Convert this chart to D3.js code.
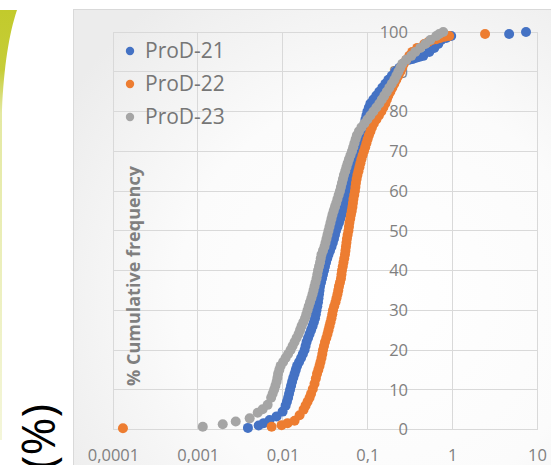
<!DOCTYPE html>
<html>
<head>
<meta charset="utf-8">
<script src="https://cdn.jsdelivr.net/npm/d3@7"></script>
<style>
  body { margin: 0; background: #ffffff; }
  svg { display: block; }
</style>
</head>
<body>
<svg id="chart" width="551" height="465"></svg>
<script>
// Axis ticks
const xTickValues = [0.0001, 0.001, 0.01, 0.1, 1, 10];
const xTickLabels = ["0,0001", "0,001", "0,01", "0,1", "1", "10"];
const yTickValues = [0, 10, 20, 30, 40, 50, 60, 70, 80, 90, 100];

// Series
const seriesNames = ["ProD-21", "ProD-22", "ProD-23"];
const seriesColors = ["#4472C4", "#ED7D31", "#A5A5A5"];

// Each entry: [size, cumulative frequency %]
const prod21 = [
  [0.0039, 0.4], [0.00522, 1], [0.00598, 1.6], [0.00703, 2.4], [0.0085, 3.3], [0.01, 4.5],
  [0.01085, 6], [0.01124, 7], [0.01161, 8], [0.01192, 9], [0.01225, 10], [0.01259, 11],
  [0.01294, 12], [0.01336, 13], [0.01384, 14], [0.0143, 15], [0.01481, 16], [0.01564, 17],
  [0.01651, 18], [0.01733, 19], [0.01815, 20], [0.01865, 21], [0.01916, 22], [0.01995, 23],
  [0.02078, 24], [0.02164, 25], [0.02254, 26], [0.02334, 27], [0.02412, 28], [0.02465, 29],
  [0.02512, 30], [0.02567, 31], [0.02616, 32], [0.02651, 33], [0.02688, 34], [0.02725, 35],
  [0.02762, 36], [0.02838, 37], [0.02916, 38], [0.02995, 39], [0.03078, 40], [0.03162, 41],
  [0.0325, 42], [0.03357, 43], [0.03477, 44], [0.03622, 45], [0.03771, 46], [0.03906, 47],
  [0.04036, 48], [0.04146, 49], [0.04261, 50], [0.04436, 51], [0.0462, 52], [0.04774, 53],
  [0.04944, 54], [0.05079, 55], [0.05221, 56], [0.05363, 57], [0.05511, 58], [0.05662, 59],
  [0.05816, 60], [0.05976, 61], [0.06141, 62], [0.0631, 63], [0.06483, 64], [0.06753, 65],
  [0.07032, 66], [0.07225, 67], [0.07424, 68], [0.07625, 69], [0.07837, 70], [0.08053, 71],
  [0.08273, 72], [0.08501, 73], [0.08731, 74], [0.08899, 75], [0.09095, 76], [0.0927, 77],
  [0.09473, 78], [0.09732, 79], [0.1, 80], [0.1041, 81], [0.1085, 82], [0.1176, 83],
  [0.1276, 84], [0.1384, 85], [0.1501, 86], [0.1628, 87], [0.1766, 88], [0.1942, 89],
  [0.2135, 90], [0.2379, 91], [0.2651, 92], [0.312, 93], [0.343, 93.2], [0.3771, 93.5],
  [0.4146, 93.8], [0.4559, 94], [0.5363, 95], [0.6141, 96], [0.6843, 97], [0.7424, 98],
  [0.8501, 98.5], [0.9732, 99], [4.69, 99.5], [7.42, 100]
];

const prod22 = [
  [0.000131, 0.3], [0.00742, 0.7], [0.00973, 1.1], [0.01145, 1.6], [0.01384, 2.2], [0.01585, 3.6],
  [0.01766, 5], [0.01865, 6], [0.01968, 7], [0.0208, 8], [0.02164, 9], [0.0227, 10.2],
  [0.02379, 11.5], [0.02465, 12.8], [0.02546, 14], [0.02637, 15], [0.02725, 16], [0.028, 17],
  [0.02876, 18], [0.02939, 19], [0.02995, 20], [0.03078, 21], [0.03162, 22], [0.03276, 23],
  [0.03383, 24], [0.03477, 25], [0.03573, 26], [0.03671, 27], [0.03771, 28], [0.03854, 29],
  [0.03928, 30], [0.04057, 31], [0.04203, 32], [0.04318, 33], [0.04436, 34], [0.04534, 35],
  [0.0462, 36], [0.04748, 37], [0.04878, 38], [0.04944, 39], [0.05012, 40], [0.05122, 41],
  [0.05221, 42], [0.05335, 43], [0.05436, 44], [0.05511, 45], [0.05585, 46], [0.05662, 47],
  [0.05739, 48], [0.05848, 49], [0.05976, 50], [0.0606, 51], [0.06141, 52], [0.06276, 53],
  [0.06395, 54], [0.06536, 55], [0.0666, 56], [0.06753, 57], [0.06843, 58], [0.06993, 59],
  [0.07128, 60], [0.07225, 61], [0.07323, 62], [0.07464, 63], [0.07625, 64], [0.07837, 65],
  [0.08053, 66], [0.08273, 67], [0.08501, 68], [0.08779, 69], [0.09095, 70], [0.09421, 71],
  [0.09732, 72], [0.1005, 73], [0.1041, 74], [0.1085, 75], [0.113, 76], [0.1192, 77],
  [0.1276, 78], [0.1366, 79], [0.1461, 80], [0.1543, 81], [0.1628, 82], [0.1696, 83],
  [0.1766, 84], [0.1865, 85], [0.1968, 86], [0.2078, 87], [0.2193, 88], [0.2316, 89],
  [0.2444, 90], [0.258, 91], [0.2688, 92], [0.2876, 93], [0.312, 94], [0.3383, 95],
  [0.3874, 96], [0.4685, 97], [0.5221, 97.5], [0.5816, 98], [0.6483, 98.2], [0.7225, 98.5],
  [0.8163, 98.8], [0.922, 99], [2.44, 99.5]
];

const prod23 = [
  [0.001145, 0.7], [0.001968, 1.3], [0.0028, 2.0], [0.00409, 2.8], [0.00508, 4.2], [0.005817, 5.1],
  [0.006661, 6.2], [0.007323, 8], [0.007627, 9], [0.007943, 10], [0.008228, 11], [0.0085, 12],
  [0.008687, 13], [0.00885, 14], [0.009145, 15], [0.00947, 16], [0.01014, 17], [0.01085, 18],
  [0.01161, 19], [0.01242, 20], [0.01311, 21], [0.01384, 22], [0.01461, 23], [0.01543, 24],
  [0.01607, 25], [0.01673, 26], [0.01752, 27], [0.0184, 28], [0.01905, 29], [0.01968, 30],
  [0.02033, 31], [0.02106, 32], [0.02182, 33], [0.02254, 34], [0.02316, 35], [0.02379, 36],
  [0.02444, 37], [0.02512, 38], [0.02567, 39], [0.02616, 40], [0.02688, 41], [0.02762, 42],
  [0.02815, 43], [0.02876, 44], [0.02995, 45], [0.0312, 46], [0.03206, 47], [0.03294, 48],
  [0.03383, 49], [0.03477, 50], [0.03573, 51], [0.03671, 52], [0.03771, 53], [0.03874, 54],
  [0.04003, 55], [0.04146, 56], [0.04295, 57], [0.04436, 58], [0.04583, 59], [0.04748, 60],
  [0.04878, 61], [0.05012, 62], [0.0515, 63], [0.0529, 64], [0.05481, 65], [0.05662, 66],
  [0.05848, 67], [0.0606, 68], [0.0631, 69], [0.06571, 70], [0.06808, 71], [0.07032, 72],
  [0.07264, 73], [0.0752, 74], [0.07943, 75], [0.08501, 76], [0.0922, 77], [0.1, 78],
  [0.1085, 79], [0.1176, 80], [0.1276, 81], [0.1384, 82], [0.1481, 83], [0.1585, 84],
  [0.1696, 85], [0.1815, 86], [0.1942, 87], [0.2078, 88], [0.2193, 89], [0.2316, 90],
  [0.2444, 91], [0.258, 92], [0.2876, 93], [0.3294, 94], [0.3671, 95], [0.4203, 96],
  [0.4813, 97], [0.5511, 98], [0.6483, 99], [0.7032, 99.5], [0.7837, 100]
];

const seriesData = [prod21, prod22, prod23];

const svg = d3.select("#chart");
const font = "'Open Sans', 'Noto Sans', sans-serif";

const defs = svg.append("defs");
const bg = defs.append("radialGradient").attr("id", "areaFill")
  .attr("cx", "62%").attr("cy", "58%").attr("r", "75%");
bg.append("stop").attr("offset", "0%").attr("stop-color", "#ffffff");
bg.append("stop").attr("offset", "55%").attr("stop-color", "#fbfbfb");
bg.append("stop").attr("offset", "100%").attr("stop-color", "#ececec");

const swoosh = defs.append("linearGradient").attr("id", "swooshFill")
  .attr("x1", 0).attr("y1", 0).attr("x2", 0).attr("y2", 1);
swoosh.append("stop").attr("offset", "0%").attr("stop-color", "#c2ca2c");
swoosh.append("stop").attr("offset", "14%").attr("stop-color", "#c6cd38");
swoosh.append("stop").attr("offset", "24%").attr("stop-color", "#e4e9a2");
swoosh.append("stop").attr("offset", "100%").attr("stop-color", "#f4f6da");

// Decorative swoosh at the left edge
svg.append("path")
  .attr("d", "M0,10 L17,10 C9,34 4,66 2,110 L2,440 L0,440 Z")
  .attr("fill", "url(#swooshFill)");

// Large rotated unit label
svg.append("text")
  .attr("transform", "translate(55,404) rotate(-90)")
  .attr("text-anchor", "end")
  .attr("font-family", font)
  .attr("font-size", 46)
  .attr("fill", "#000")
  .text("(%)");

// Chart area
svg.append("rect")
  .attr("x", 73.5).attr("y", 9.5).attr("width", 500).attr("height", 500)
  .attr("fill", "url(#areaFill)")
  .attr("stroke", "#d9d9d9");

const x = d3.scaleLog().domain([0.0001, 10]).range([113, 537]);
const y = d3.scaleLinear().domain([0, 100]).range([429.5, 32]);

// Gridlines
const grid = svg.append("g").attr("stroke", "#d9d9d9").attr("stroke-width", 1)
  .attr("shape-rendering", "crispEdges");
grid.selectAll("line.v").data(xTickValues).join("line").attr("class", "v")
  .attr("x1", d => x(d)).attr("x2", d => x(d))
  .attr("y1", y(0)).attr("y2", y(100));
grid.selectAll("line.h").data(yTickValues).join("line").attr("class", "h")
  .attr("x1", x(0.0001)).attr("x2", x(10))
  .attr("y1", d => y(d)).attr("y2", d => y(d));

// X axis labels
const xAxis = svg.append("g")
  .attr("transform", `translate(0,${y(0)})`)
  .call(d3.axisBottom(x).tickValues(xTickValues)
    .tickFormat((d, i) => xTickLabels[i]).tickSize(0).tickPadding(20));
xAxis.select(".domain").remove();
xAxis.selectAll("text").attr("font-family", font).attr("font-size", 16.5).attr("fill", "#808080");

// Y axis labels, placed beside the 0.1 crossing
const yAxis = svg.append("g")
  .attr("transform", "translate(408,0)")
  .call(d3.axisLeft(y).tickValues(yTickValues).tickSize(0).tickPadding(0));
yAxis.select(".domain").remove();
yAxis.selectAll("text").attr("font-family", font).attr("font-size", 16.5).attr("fill", "#808080");

// Y axis title
svg.append("text")
  .attr("transform", "translate(140,276) rotate(-90)")
  .attr("text-anchor", "middle")
  .attr("font-family", font)
  .attr("font-weight", "bold")
  .attr("font-size", 18)
  .attr("fill", "#7f7f7f")
  .text("% Cumulative frequency");

// Series markers
seriesData.forEach((pts, i) => {
  svg.append("g").attr("fill", seriesColors[i])
    .selectAll("circle").data(pts).join("circle")
    .attr("cx", d => x(d[0]))
    .attr("cy", d => y(d[1]))
    .attr("r", 5);
});

// Legend
const legend = svg.append("g");
const legendRows = legend.selectAll("g").data(seriesNames).join("g")
  .attr("transform", (d, i) => `translate(130,${51 + i * 33})`);
legendRows.append("circle").attr("r", 4.2).attr("fill", (d, i) => seriesColors[i]);
legendRows.append("text")
  .attr("x", 15).attr("dy", "0.35em")
  .attr("font-family", font).attr("font-size", 21).attr("fill", "#767676")
  .text(d => d);
</script>
</body>
</html>
